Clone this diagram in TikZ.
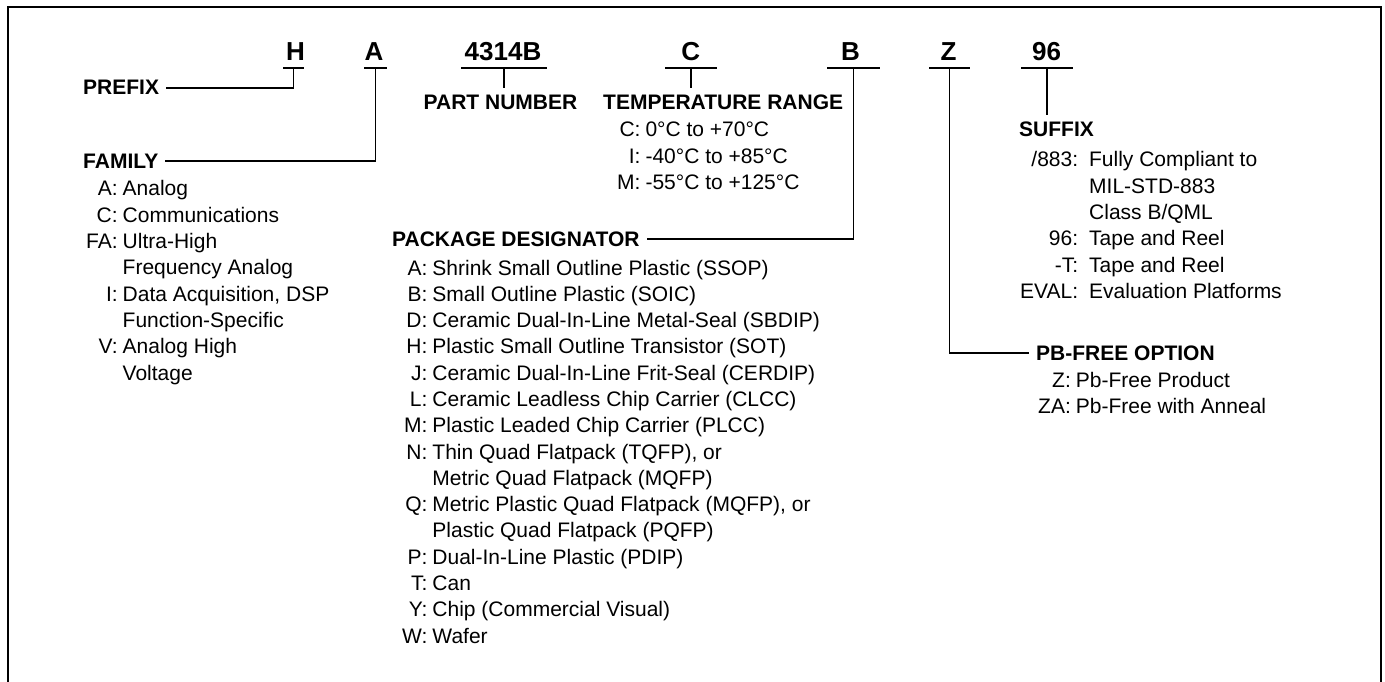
\documentclass[tikz,border=0pt]{standalone}
\usepackage{fontspec}
\setmainfont{Liberation Sans}

\tikzstyle{txt}   = [inner sep=7pt, font=\fontsize{21}{26.3}\selectfont]
\tikzstyle{code}  = [txt, font=\fontsize{26}{30}\selectfont\bfseries, anchor=base]
\tikzstyle{head}  = [txt, font=\fontsize{21}{26.3}\selectfont\bfseries, anchor=base west]
\tikzstyle{items} = [txt, anchor=base west]
\tikzstyle{wire}  = [line width=1.8pt]
\tikzstyle{frame} = [line width=2.5pt]
% letter of the ordering code with its bar
\def\partfield#1#2#3#4#5{
  \node[code] (#1) at (#2,61) {#5};
  \coordinate (#1-bar) at (#3,68);
  \draw[wire] ([xshift=-#4pt]#1-bar) -- ([xshift=#4pt]#1-bar);
}

\begin{document}
\begin{tikzpicture}[x=1pt,y=-1pt]
    \useasboundingbox (0,0) rectangle (1385,682);
    \draw[frame] (8,700) -- (8,7) -- (1381,7) -- (1381,700);

    \partfield{h}{295.5}{293.5}{10.5}{H}
    \partfield{a}{374}{375.5}{11.5}{A}
    \partfield{pn}{503}{504}{43}{4314B}
    \partfield{c}{690.7}{691}{26}{C}
    \partfield{b}{850.5}{853.5}{26.5}{B}
    \partfield{z}{948.5}{949.5}{20.5}{Z}
    \partfield{sfx}{1046.5}{1047}{26}{96}

    % headings
    \node[head] (prefix)  at (76,95)    {PREFIX};
    \node[head] (family)  at (76,168)   {FAMILY};
    \node[head, anchor=base] (partno) at (500.5,110) {PART NUMBER};
    \node[head] (temp)    at (596,110)  {TEMPERATURE RANGE};
    \node[head] (package) at (385,246)  {PACKAGE DESIGNATOR};
    \node[head] (suffix)  at (1012,137) {SUFFIX};
    \node[head] (pbfree)  at (1029,360) {PB-FREE OPTION};

    % option lists
    \node[items] (family-list) at (79,196) {\begin{tabular}[t]{@{}r@{\hspace{5pt}}l@{}}
      A: & Analog\\
      C: & Communications\\
      FA: & Ultra-High\\
          & Frequency Analog\\
      I: & Data Acquisition, DSP\\
         & Function-Specific\\
      V: & Analog High\\
         & Voltage
    \end{tabular}};
    \node[items] (temp-list) at (610,137) {\begin{tabular}[t]{@{}r@{\hspace{5pt}}l@{}}
      C: & 0°C to +70°C\\
      I: & -40°C to +85°C\\
      M: & -55°C to +125°C
    \end{tabular}};
    \node[items] (package-list) at (395,275) {\begin{tabular}[t]{@{}r@{\hspace{5pt}}l@{}}
      A: & Shrink Small Outline Plastic (SSOP)\\
      B: & Small Outline Plastic (SOIC)\\
      D: & Ceramic Dual-In-Line Metal-Seal (SBDIP)\\
      H: & Plastic Small Outline Transistor (SOT)\\
      J: & Ceramic Dual-In-Line Frit-Seal (CERDIP)\\
      L: & Ceramic Leadless Chip Carrier (CLCC)\\
      M: & Plastic Leaded Chip Carrier (PLCC)\\
      N: & Thin Quad Flatpack (TQFP), or\\
         & Metric Quad Flatpack (MQFP)\\
      Q: & Metric Plastic Quad Flatpack (MQFP), or\\
         & Plastic Quad Flatpack (PQFP)\\
      P: & Dual-In-Line Plastic (PDIP)\\
      T: & Can\\
      Y: & Chip (Commercial Visual)\\
      W: & Wafer
    \end{tabular}};
    \node[items] (suffix-list) at (1013,167) {\begin{tabular}[t]{@{}r@{\hspace{11pt}}l@{}}
      /883: & Fully Compliant to\\
            & MIL-STD-883\\
            & Class B/QML\\
      96: & Tape and Reel\\
      -T: & Tape and Reel\\
      EVAL: & Evaluation Platforms
    \end{tabular}};
    \node[items] (pbfree-list) at (1031,387) {\begin{tabular}[t]{@{}r@{\hspace{5pt}}l@{}}
      Z: & Pb-Free Product\\
      ZA: & Pb-Free with Anneal
    \end{tabular}};

    % connectors
    \draw[wire] (h-bar) |- (prefix.east);
    \draw[wire] (a-bar) |- (family.east);
    \draw[wire] (pn-bar) -- (pn-bar |- partno.north);
    \draw[wire] (c-bar) -- (c-bar |- temp.north);
    \draw[wire] (b-bar) |- (package.east);
    \draw[wire] (z-bar) |- (pbfree.west);
    \draw[wire] (sfx-bar) -- (sfx-bar |- suffix.north);
\end{tikzpicture}
\end{document}
